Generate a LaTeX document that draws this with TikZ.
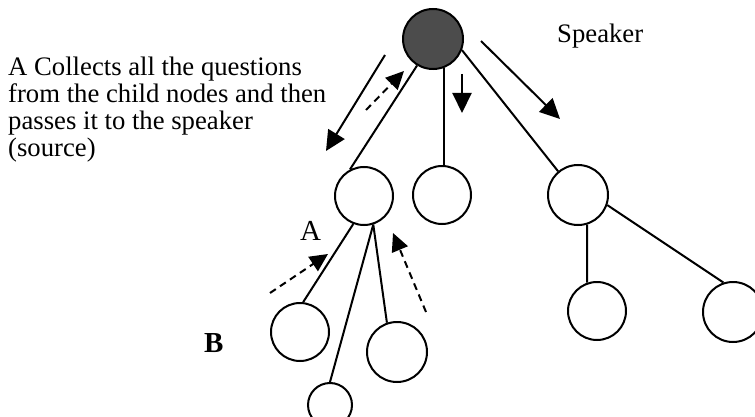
\documentclass[tikz,border=0pt]{standalone}
\usepackage{fontspec}
\setmainfont{Liberation Serif}
\usetikzlibrary{arrows.meta}
\begin{document}
\begin{tikzpicture}[x=1pt,y=-1pt,
  treenode/.style={circle,draw=black,line width=2pt,inner sep=0pt,fill=white},
  edge/.style={line width=2pt},
  flowarrow/.style={line width=2pt,-{Triangle[length=20pt,width=19pt]}},
  dasharrow/.style={line width=2pt,-{Triangle[length=18pt,width=17pt]},dash pattern=on 7pt off 5pt},
  caption/.style={anchor=base west,inner sep=0pt,font=\fontsize{26.7}{27}\selectfont}]
\useasboundingbox (0,0) rectangle (755,417);
% nodes
\node[treenode,minimum size=60pt,fill=black!70] (root) at (433,39) {};
\node[treenode,minimum size=58pt] (A) at (364,196) {};
\node[treenode,minimum size=58pt] (M) at (442,195) {};
\node[treenode,minimum size=60pt] (R) at (578,195) {};
\node[treenode,minimum size=58pt] (B) at (300,332) {};
\node[treenode,minimum size=44pt] (S) at (330,405) {};
\node[treenode,minimum size=60pt] (C) at (397,352) {};
\node[treenode,minimum size=58pt] (R1) at (597,311) {};
\node[treenode,minimum size=60pt] (R2) at (733,312) {};
% edges
\draw[edge] (root.239) -- (A.118);
\draw[edge] (root.290) -- (root.290 |- M.north);
\draw[edge] (root.339) -- (R.130);
\draw[edge] (A.249) -- (B.84);
\draw[edge] (A.288) -- (S.90);
\draw[edge] (A.288) -- (C.109);
\draw[edge] (R.287) -- (R1.109);
\draw[edge] (R.341) -- (R2.108);
% arrows
\coordinate (a1s) at (385,55);  \coordinate (a1e) at (326,151);
\coordinate (a2s) at (366,110); \coordinate (a2e) at (404,71);
\coordinate (a3s) at (462,74);  \coordinate (a3e) at (462,113);
\coordinate (a4s) at (481,41);  \coordinate (a4e) at (560,119);
\coordinate (a5s) at (270,293); \coordinate (a5e) at (328,254);
\coordinate (a6s) at (426,312); \coordinate (a6e) at (393,233);
\draw[flowarrow] (a1s) -- (a1e);
\draw[dasharrow] (a2s) -- (a2e);
\draw[flowarrow] (a3s) -- (a3e);
\draw[flowarrow] (a4s) -- (a4e);
\draw[dasharrow] (a5s) -- (a5e);
\draw[dasharrow] (a6s) -- (a6e);
% texts
\node[caption] (t1) at (8,76) {A Collects all the questions};
\node[caption] (t2) at (8,103) {from the child nodes and then};
\node[caption] (t3) at (8,130) {passes it to the speaker};
\node[caption] (t4) at (8,157) {(source)};
\node[caption] (spk) at (557,43) {Speaker};
\node[caption,font=\fontsize{29}{30}\selectfont] (lA) at (300,240) {A};
\node[caption,font=\fontsize{29}{30}\selectfont\bfseries] (lB) at (204,352) {B};
\end{tikzpicture}
\end{document}
